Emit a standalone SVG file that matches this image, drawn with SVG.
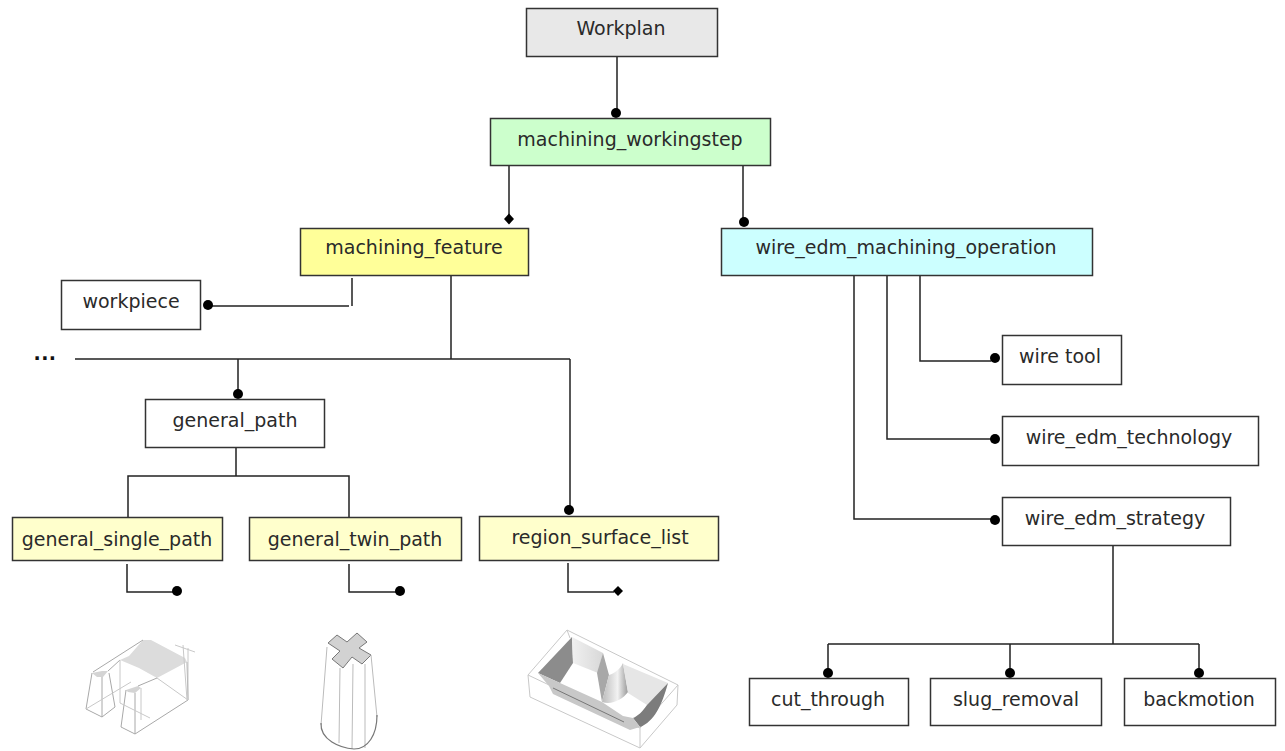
<svg xmlns="http://www.w3.org/2000/svg" width="1285" height="751" viewBox="0 0 1285 751">
<style>
.n{stroke:#333;stroke-width:1.5;fill:#fff}
.t{font-family:"DejaVu Sans","Liberation Sans",sans-serif;font-size:19px;fill:#2a2a2a;text-anchor:middle;dominant-baseline:central}
.c{fill:none;stroke:#222;stroke-width:1.5}
.d{fill:#000}
.g{fill:none;stroke:#c8c8c8;stroke-width:1}
.g2{fill:none;stroke:#a8a8a8;stroke-width:1}
</style>
<defs>
<linearGradient id="cone" x1="0" x2="1"><stop offset="0" stop-color="#bbb"/><stop offset=".6" stop-color="#f2f2f2"/><stop offset="1" stop-color="#999"/></linearGradient>
<linearGradient id="wall" x1="0" x2="1"><stop offset="0" stop-color="#f0f0f0"/><stop offset="1" stop-color="#d8d8d8"/></linearGradient>
<filter id="soft" x="-5%" y="-5%" width="110%" height="110%"><feGaussianBlur stdDeviation=".5"/></filter>
</defs>
<rect width="1285" height="751" fill="#fff"/>
<g id="connectors">
<path class="c" d="M617 57V112M509 166V218M743 166V218M352 278V306M349 306H212M451 276V359M75 359H570M238 359V392M570 359V508M236 447V476M128 517V476H349V517M127 564V592H174M349 564V592H397M568 563V592H614M920 276V361H991M887 276V439H991M854 276V519H991M1113 545V644M828 644H1199M828 644V671M1010 644V671M1199 644V671"/>
<circle class="d" cx="616" cy="113" r="5"/><circle class="d" cx="744" cy="222" r="5"/><path class="d" d="M509 213.500l5 5.500-5 5.500-5-5.500z"/>
<circle class="d" cx="208" cy="305" r="5"/><circle class="d" cx="238" cy="394" r="5"/><circle class="d" cx="569" cy="510" r="5"/>
<circle class="d" cx="177" cy="591" r="5"/><circle class="d" cx="400" cy="591" r="5"/><path class="d" d="M618 586l5 5-5 5-5-5z"/>
<circle class="d" cx="995" cy="358" r="5"/><circle class="d" cx="995" cy="439" r="5"/><circle class="d" cx="995" cy="520" r="5"/>
<circle class="d" cx="828" cy="673" r="5"/><circle class="d" cx="1010" cy="673" r="5"/><circle class="d" cx="1199" cy="673" r="5"/>
</g>
<g id="workplan"><rect class="n" x="526.500" y="8.500" width="191" height="48" style="fill:#e8e8e8"/><text class="t" x="621" y="28">Workplan</text></g>
<g id="machining_workingstep"><rect class="n" x="490.500" y="118.500" width="280" height="47" style="fill:#ccffcc"/><text class="t" x="630" y="139">machining_workingstep</text></g>
<g id="machining_feature"><rect class="n" x="300.500" y="228.500" width="228" height="47" style="fill:#ffff99"/><text class="t" x="414" y="247">machining_feature</text></g>
<g id="wire_edm_machining_operation"><rect class="n" x="721.500" y="228.500" width="371" height="47" style="fill:#ccffff"/><text class="t" x="906" y="247">wire_edm_machining_operation</text></g>
<g id="workpiece"><rect class="n" x="61.500" y="280.500" width="139" height="49"/><text class="t" x="131" y="301">workpiece</text></g>
<g id="ellipsis"><text x="45" y="360" style="font-family:'DejaVu Sans',sans-serif;font-size:19px;font-weight:bold;letter-spacing:.5px;fill:#111;text-anchor:middle">...</text></g>
<g id="general_path"><rect class="n" x="145.500" y="399.500" width="179" height="48"/><text class="t" x="235" y="420">general_path</text></g>
<g id="general_single_path"><rect class="n" x="12.500" y="517.500" width="210" height="43" style="fill:#ffffcc"/><text class="t" x="117" y="539">general_single_path</text></g>
<g id="general_twin_path"><rect class="n" x="249.500" y="517.500" width="212" height="43" style="fill:#ffffcc"/><text class="t" x="355" y="539">general_twin_path</text></g>
<g id="region_surface_list"><rect class="n" x="479.500" y="516.500" width="239" height="44" style="fill:#ffffcc"/><text class="t" x="600" y="537">region_surface_list</text></g>
<g id="wire_tool"><rect class="n" x="1002.500" y="335.500" width="119" height="49"/><text class="t" x="1060" y="356">wire tool</text></g>
<g id="wire_edm_technology"><rect class="n" x="1002.500" y="416.500" width="256" height="49"/><text class="t" x="1129" y="437">wire_edm_technology</text></g>
<g id="wire_edm_strategy"><rect class="n" x="1002.500" y="497.500" width="228" height="48"/><text class="t" x="1115" y="518">wire_edm_strategy</text></g>
<g id="cut_through"><rect class="n" x="749.500" y="678.500" width="159" height="47"/><text class="t" x="828" y="699">cut_through</text></g>
<g id="slug_removal"><rect class="n" x="930.500" y="678.500" width="171" height="47"/><text class="t" x="1016" y="699">slug_removal</text></g>
<g id="backmotion"><rect class="n" x="1124.500" y="678.500" width="151" height="47"/><text class="t" x="1199" y="699">backmotion</text></g>
<g id="part-single" filter="url(#soft)">
<path d="M143 640H151L185 658L187 662L157 678L139 668L120 660L129 656Z" fill="#dcdcdc"/>
<path d="M92 673L102 671H108L103 677L97 677ZM126 690L138 686L141 688L135 693L128 692Z" fill="#d4d4d4"/>
<path class="g2" d="M143 640L93 672M157 678L138 686M120 660L108 671M92 673L86 709L102 717L115 707L109 673M102 677V717M126 690L121 727L135 734L188 700L187 662M135 693V734"/>
<path class="g" d="M120 660V703M86 709L131 682M157 678L188 700M141 688V720M120 703L150 718M175 645L195 652M183 645L187 700M188 648V700"/>
</g>
<g id="part-twin" filter="url(#soft)">
<path d="M337 635L347 642L357 633L367 642L359 648L371 655L362 664L352 657L343 668L332 659L340 651L328 643Z" fill="#d2d2d2" stroke="#777" stroke-width="1"/>
<path d="M327 647L321 725M340 668L339 743M353 664L352 749M365 664L365 748M371 655L377 717" fill="none" stroke="#bbb" stroke-width="1"/>
<path d="M321 723C320 740 340 748 354 749C368 749 377 735 377 715" fill="none" stroke="#777" stroke-width="1.200"/>
</g>
<g id="part-surface" filter="url(#soft)">
<path class="g" d="M528 675L567 630L678 685L677 705L640 748L530 697ZM528 675L640 728L678 685M640 728V748M567 630L570 638"/>
<path d="M572 637L538 673L560 683L573 663Z" fill="#8c8c8c"/>
<path d="M572 637L573 663L598 673L603 653Z" fill="url(#wall)"/>
<path d="M603 653L597 673L602 702L609 675Z" fill="#a8a8a8"/>
<path d="M609 675L602 702C612 705 622 700 628 692L623 663C620 669 615 673 609 675Z" fill="url(#cone)"/>
<path d="M623 664L668 683L647 705L628 693Z" fill="#e6e6e6"/>
<path d="M668 683L647 705C642 712 638 716 633 718L640 727C654 722 662 705 668 683Z" fill="#7c7c7c"/>
<path d="M538 673L560 683L602 702L623 716L633 718L640 727L630 730L553 694L549 686Z" fill="#c8c8c8"/>
<path d="M553 688L624 722" fill="none" stroke="#777" stroke-width="1"/>
</g>
</svg>
